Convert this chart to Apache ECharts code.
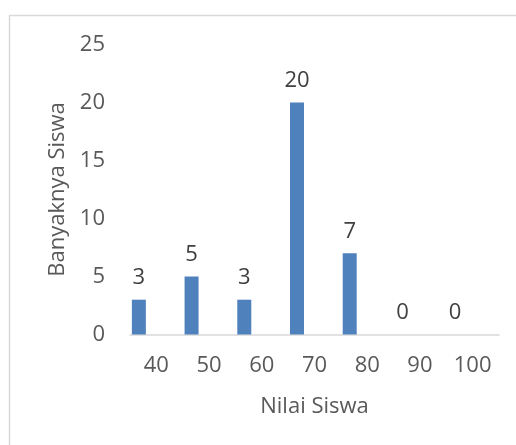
<!DOCTYPE html>
<html>
<head>
<meta charset="utf-8">
<script src="https://cdn.jsdelivr.net/npm/echarts@6/dist/echarts.min.js"></script>
<style>
  html, body { margin: 0; padding: 0; background: #fff; }
  #chart { width: 516px; height: 445px; }
</style>
</head>
<body>
<div id="chart"></div>
<script>
// Score bins and number of students in each
const scoreBins = ['40', '50', '60', '70', '80', '90', '100'];
const studentCounts = [3, 5, 3, 20, 7, 0, 0];

const textColor = '#595959';
const fontFamily = '"Open Sans", "Noto Sans", sans-serif';
const fontSize = 22;

const chart = echarts.init(document.getElementById('chart'), null, { renderer: 'canvas' });

chart.setOption({
  animation: false,
  backgroundColor: '#ffffff',
  textStyle: { fontFamily: fontFamily, color: textColor },
  graphic: [{
    type: 'rect',
    shape: { x: 9.5, y: 15.5, width: 560, height: 480 },
    style: { fill: 'none', stroke: '#d9d9d9', lineWidth: 1.5 },
    silent: true
  }],
  grid: { left: 130, right: 17, top: 44.5, bottom: 110.5, containLabel: false },
  xAxis: {
    type: 'category',
    data: scoreBins,
    name: 'Nilai Siswa',
    nameLocation: 'middle',
    nameGap: 61,
    nameTextStyle: { fontSize: fontSize, color: textColor, fontFamily: fontFamily },
    axisLine: { lineStyle: { color: '#d9d9d9', width: 1.5 } },
    axisTick: { show: false },
    axisLabel: {
      margin: 20,
      fontSize: fontSize,
      color: textColor,
      fontFamily: fontFamily
    }
  },
  yAxis: {
    type: 'value',
    min: 0,
    max: 25,
    interval: 5,
    name: 'Banyaknya Siswa',
    nameLocation: 'middle',
    nameGap: 56,
    nameTextStyle: { fontSize: fontSize, color: textColor, fontFamily: fontFamily },
    axisLine: { show: false },
    axisTick: { show: false },
    splitLine: { show: false },
    axisLabel: { margin: 25, fontSize: fontSize, color: textColor, fontFamily: fontFamily }
  },
  series: [
    {
      type: 'bar',
      data: studentCounts,
      barWidth: 14,
      barGap: '150%',
      itemStyle: { color: '#4f81bd' },
      label: {
        show: true,
        position: 'top',
        distance: 11,
        fontSize: fontSize,
        color: '#404040',
        fontFamily: fontFamily
      }
    },
    {
      // empty companion slot so the bars sit left of each category centre
      type: 'bar',
      data: scoreBins.map(() => null),
      barWidth: 14,
      silent: true
    }
  ]
});
</script>
</body>
</html>
